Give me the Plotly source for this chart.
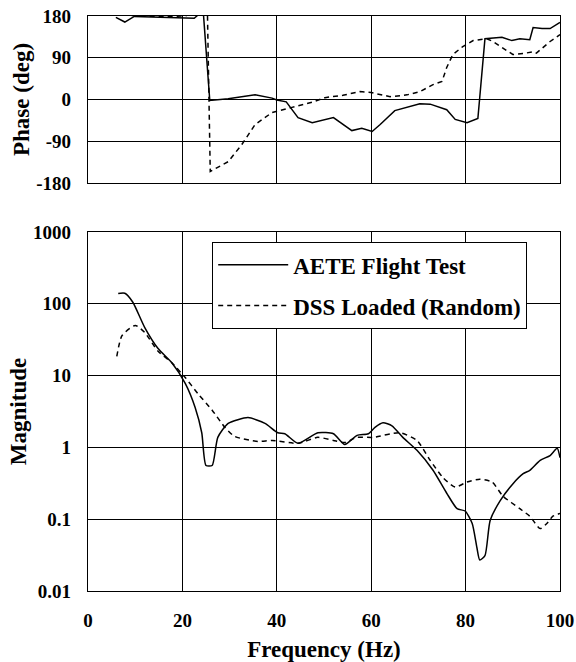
import plotly.graph_objects as go
from plotly.subplots import make_subplots

# ---- Data ----
phase_freq_aete = [5.9, 7.8, 9.8, 15, 20.5, 22.5, 24.4, 25.8, 29.7, 35.4, 39, 40, 42, 43.5, 44.5, 47.5, 50.2,
                   52, 55.9, 58, 60.2, 61.9, 65, 70.3, 72.5, 76, 77.8, 80.3, 82.6, 84.1, 87.7, 89.8,
                   91.5, 93.6, 94.3, 96.2, 97.9, 100]
phase_aete = [177, 167, 179, 178, 177, 175, 192, -2, 1.5, 10, 3, -1, -5, -25, -39, -50, -43,
              -39, -67, -62, -69, -54, -24, -9, -10, -22, -43, -50, -41, 131, 134, 127,
              131, 129, 155, 153, 153, 166]

phase_freq_dss = [5.7, 9.2, 15, 20.5, 22.5, 24.4, 25.3, 25.9, 29.7, 32.6, 35.4, 39, 43.2, 47.5, 50.2,
                  54, 57.6, 60, 64, 67.6, 70.3, 73.1, 75, 76, 77.3, 79.4, 81.6, 84.5, 85.8, 87.7,
                  90, 92.2, 94.3, 95, 97.9, 100]
phase_dss = [195, 181, 179, 180, 186, 192, 190, -155, -134, -97, -54, -28, -17, -6, 4,
             9, 17, 15, 6, 10, 17, 32, 39, 69, 97, 114, 127, 131, 125, 112,
             97, 99, 103, 100, 125, 140]

mag_freq_aete = [6.4, 7.8, 9.5, 12, 14.8, 17.8, 20.6, 22.7, 24.1, 25.0, 26.3, 27.5, 29.7, 33.9, 37.5,
                 40.2, 41.7, 44.5, 48.7, 52, 54.4, 57, 59.4, 60.8, 62.5, 64.4, 66.7, 69.7, 73.1,
                 76, 78.2, 79.9, 81.4, 82.4, 83, 84.1, 85.2, 87.3, 90, 92.2, 93.6, 95.8, 97.9,
                 99.4, 100]
mag_aete = [139, 140, 105, 47, 24, 15, 7.8, 3.6, 1.6, 0.56, 0.56, 1.38, 2.16, 2.6, 2.16,
            1.6, 1.55, 1.14, 1.6, 1.55, 1.1, 1.47, 1.55, 1.9, 2.2, 2.0, 1.38, 0.91, 0.48,
            0.23, 0.14, 0.13, 0.087, 0.04, 0.027, 0.031, 0.096, 0.18, 0.31, 0.43, 0.48, 0.66, 0.77,
            0.97, 0.72]

mag_freq_dss = [6.1, 7.2, 10, 12, 14.8, 17.8, 20.6, 23.3, 26.3, 29, 31.1, 36, 39, 44.5, 48.7,
                52, 54.4, 57, 60.4, 66.1, 69.7, 72.5, 75.2, 77.8, 80.3, 83, 85.6, 87.9, 91.5,
                93.6, 95.8, 97.2, 98.5, 100]
mag_dss = [18.5, 36, 50, 40, 22, 15, 9.4, 5.6, 3.3, 1.9, 1.42, 1.21, 1.25, 1.14, 1.38,
           1.25, 1.17, 1.38, 1.38, 1.6, 1.25, 0.66, 0.38, 0.28, 0.33, 0.36, 0.33, 0.21, 0.14,
           0.11, 0.074, 0.087, 0.11, 0.12]

series_names = ["AETE Flight Test", "DSS Loaded (Random)"]
x_ticks = [0, 20, 40, 60, 80, 100]
x_ticklabels = ["0", "20", "40", "60", "80", "100"]
phase_ticks = [-180, -90, 0, 90, 180]
phase_ticklabels = ["-180", "-90", "0", "90", "180"]
mag_ticks = [0.01, 0.1, 1, 10, 100, 1000]
mag_ticklabels = ["0.01", "0.1", "1", "10", "100", "1000"]

FONT = "Liberation Serif"
tickfont = dict(family=FONT, size=19, color="black", weight="bold")
titlefont = dict(family=FONT, size=23, color="black", weight="bold")

fig = make_subplots(rows=2, cols=1, vertical_spacing=0.085, row_heights=[0.29, 0.71])

fig.add_trace(go.Scatter(x=phase_freq_aete, y=phase_aete, mode="lines",
                         line=dict(color="black", width=1.5), showlegend=False), row=1, col=1)
fig.add_trace(go.Scatter(x=phase_freq_dss, y=phase_dss, mode="lines",
                         line=dict(color="black", width=1.5, dash="5px,4px"), showlegend=False), row=1, col=1)

fig.add_trace(go.Scatter(x=mag_freq_aete, y=mag_aete, mode="lines", name=series_names[0],
                         legendgroup="a",
                         line=dict(color="black", width=1.5, shape="spline", smoothing=0.6)), row=2, col=1)
fig.add_trace(go.Scatter(x=mag_freq_dss, y=mag_dss, mode="lines", name=series_names[1],
                         legendgroup="b",
                         line=dict(color="black", width=1.5, dash="5px,4px", shape="spline", smoothing=0.6)),
              row=2, col=1)

axis_common = dict(showgrid=True, gridcolor="black", gridwidth=1, showline=True, linecolor="black",
                   linewidth=1.2, mirror=True, zeroline=False, ticks="", tickfont=tickfont,
                   automargin=False)

fig.update_xaxes(range=[0, 100], tickvals=x_ticks, ticktext=x_ticklabels, **axis_common)
fig.update_xaxes(showticklabels=False, row=1, col=1)
fig.update_xaxes(ticklabelstandoff=12, title=dict(text="Frequency (Hz)", font=titlefont, standoff=12),
                 row=2, col=1)

fig.update_yaxes(range=[-180, 180], tickvals=phase_ticks, ticktext=phase_ticklabels,
                 ticklabelstandoff=12, title=dict(text="Phase (deg)", font=titlefont, standoff=0),
                 row=1, col=1, **axis_common)
fig.update_yaxes(type="log", range=[-2, 3], tickvals=mag_ticks, ticktext=mag_ticklabels,
                 ticklabelstandoff=12, title=dict(text="Magnitude", font=titlefont, standoff=0),
                 row=2, col=1, **axis_common)

top = 1 - (183 - 16) / 575
bot_top = 1 - (232 - 16) / 575
fig.update_layout(
    yaxis=dict(domain=[top, 1]),
    yaxis2=dict(domain=[0, bot_top]),
    width=576, height=662,
    margin=dict(l=88, r=16, t=16, b=71, autoexpand=False),
    paper_bgcolor="white", plot_bgcolor="white",
    legend=dict(x=(212 - 88) / 472, y=1 - (242 - 16) / 575, xanchor="left", yanchor="top",
                bgcolor="white", bordercolor="black", borderwidth=1.2,
                font=dict(family=FONT, size=23, color="black", weight="bold"),
                itemwidth=70, tracegroupgap=8, traceorder="grouped"),
)

fig.write_html("out.html")
